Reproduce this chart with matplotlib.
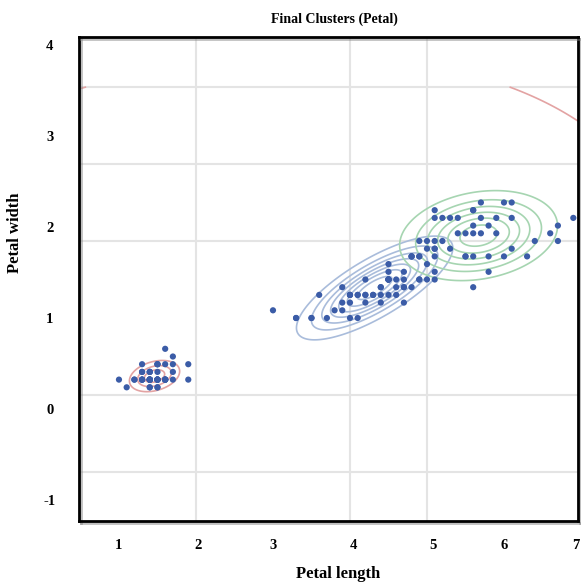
import numpy as np
import matplotlib
matplotlib.use("Agg")
import matplotlib.pyplot as plt
import matplotlib.patheffects as pe

# ---------------- DATA (iris petals) ----------------
petal_length = [
    1.4, 1.4, 1.3, 1.5, 1.4, 1.7, 1.4, 1.5, 1.4, 1.5, 1.5, 1.6, 1.4, 1.1, 1.2, 1.5, 1.3, 1.4, 1.7, 1.5,
    1.7, 1.5, 1.0, 1.7, 1.9, 1.6, 1.6, 1.5, 1.4, 1.6, 1.6, 1.5, 1.5, 1.4, 1.5, 1.2, 1.3, 1.4, 1.3, 1.5,
    1.3, 1.3, 1.3, 1.6, 1.9, 1.4, 1.6, 1.4, 1.5, 1.4,
    4.7, 4.5, 4.9, 4.0, 4.6, 4.5, 4.7, 3.3, 4.6, 3.9, 3.5, 4.2, 4.0, 4.7, 3.6, 4.4, 4.5, 4.1, 4.5, 3.9,
    4.8, 4.0, 4.9, 4.7, 4.3, 4.4, 4.8, 5.0, 4.5, 3.5, 3.8, 3.7, 3.9, 5.1, 4.5, 4.5, 4.7, 4.4, 4.1, 4.0,
    4.4, 4.6, 4.0, 3.3, 4.2, 4.2, 4.2, 4.3, 3.0, 4.1,
    6.0, 5.1, 5.9, 5.6, 5.8, 6.6, 4.5, 6.3, 5.8, 6.1, 5.1, 5.3, 5.5, 5.0, 5.1, 5.3, 5.5, 6.7, 6.9, 5.0,
    5.7, 4.9, 6.7, 4.9, 5.7, 6.0, 4.8, 4.9, 5.6, 5.8, 6.1, 6.4, 5.6, 5.1, 5.6, 6.1, 5.6, 5.5, 4.8, 5.4,
    5.6, 5.1, 5.1, 5.9, 5.7, 5.2, 5.0, 5.2, 5.4, 5.1,
]
petal_width = [
    0.2, 0.2, 0.2, 0.2, 0.2, 0.4, 0.3, 0.2, 0.2, 0.1, 0.2, 0.2, 0.1, 0.1, 0.2, 0.4, 0.4, 0.3, 0.3, 0.3,
    0.2, 0.4, 0.2, 0.5, 0.2, 0.2, 0.4, 0.2, 0.2, 0.2, 0.2, 0.4, 0.1, 0.2, 0.2, 0.2, 0.2, 0.1, 0.2, 0.2,
    0.3, 0.3, 0.2, 0.6, 0.4, 0.3, 0.2, 0.2, 0.2, 0.2,
    1.4, 1.5, 1.5, 1.3, 1.5, 1.3, 1.6, 1.0, 1.3, 1.4, 1.0, 1.5, 1.0, 1.4, 1.3, 1.4, 1.5, 1.0, 1.5, 1.1,
    1.8, 1.3, 1.5, 1.2, 1.3, 1.4, 1.4, 1.7, 1.5, 1.0, 1.1, 1.0, 1.2, 1.6, 1.5, 1.6, 1.5, 1.3, 1.3, 1.3,
    1.2, 1.4, 1.2, 1.0, 1.3, 1.2, 1.3, 1.3, 1.1, 1.3,
    2.5, 1.9, 2.1, 1.8, 2.2, 2.1, 1.7, 1.8, 1.8, 2.5, 2.0, 1.9, 2.1, 2.0, 2.4, 2.3, 1.8, 2.2, 2.3, 1.5,
    2.3, 2.0, 2.0, 1.8, 2.1, 1.8, 1.8, 1.8, 2.1, 1.6, 1.9, 2.0, 2.2, 1.5, 1.4, 2.3, 2.4, 1.8, 1.8, 2.1,
    2.4, 2.3, 1.9, 2.3, 2.5, 2.3, 1.9, 2.0, 2.3, 1.8,
]

# fitted gaussian components
comp_means = [(1.462, 0.246), (4.32, 1.39), (5.67, 2.07)]
comp_covs = [
    [[0.0300, 0.00575], [0.00575, 0.0116]],
    [[0.243, 0.124], [0.124, 0.107]],
    [[0.277, 0.034], [0.034, 0.090]],
]
comp_colors = ["#e3a3a3", "#a9bcdb", "#a6d5b1"]
# contour levels as fraction of each component's peak density
comp_levels = [
    [0.17, 0.45, 0.75],
    [0.12, 0.25, 0.38, 0.51, 0.64, 0.77, 0.9],
    [0.15, 0.30, 0.45, 0.60, 0.75, 0.90],
]

x_ticks = [1.0, 2.03, 3.0, 4.05, 5.08, 6.0, 6.93]
x_ticklabels = ["1", "2", "3", "4", "5", "6", "7"]
y_ticks = [4.55, 3.36, 2.18, 1.0, -0.18, -1.36]
y_ticklabels = ["4", "3", "2", "1", "0", "-1"]
grid_x = [1, 2, 3, 4, 5, 6]
grid_y = [-1, 0, 1, 2, 3, 4]


def log_gauss(X, Y, mean, cov):
    cov = np.array(cov)
    inv = np.linalg.inv(cov)
    dx = X - mean[0]
    dy = Y - mean[1]
    m = inv[0, 0] * dx**2 + 2 * inv[0, 1] * dx * dy + inv[1, 1] * dy**2
    return -0.5 * m - np.log(2 * np.pi * np.sqrt(np.linalg.det(cov)))


# ---------------- PLOT ----------------
plt.rcParams["font.family"] = ["Liberation Serif", "DejaVu Serif"]
plt.rcParams["font.weight"] = "bold"

fig = plt.figure(figsize=(5.81, 5.88), dpi=100)
ax = fig.add_axes([79 / 581, 1 - 521 / 588, 499 / 581, 484 / 588])

gx, gy = np.meshgrid(np.linspace(0.5, 7.0, 500), np.linspace(-0.5, 4.0, 500))
floor = np.log(np.finfo(float).smallest_subnormal)  # where the density underflows

for i, (mu, cov) in enumerate(zip(comp_means, comp_covs)):
    lz = log_gauss(gx, gy, mu, cov)
    peak = lz.max()
    lv = sorted(peak + np.log(comp_levels[i]))
    if i == 0:
        lv = [floor] + lv
    ax.contour(gx, gy, lz, levels=lv, colors=comp_colors[i], linewidths=1.2,
               linestyles="solid", zorder=2)

ax.scatter(petal_length, petal_width, s=20, color="#3b5ca7", edgecolors="none", zorder=3)

ax.set_xlim(0.481, 6.961)
ax.set_ylim(-1.636, 4.649)

ax.set_xticks(x_ticks)
ax.set_xticklabels(x_ticklabels)
ax.set_yticks(y_ticks)
ax.set_yticklabels(y_ticklabels)
ax.set_xticks(grid_x, minor=True)
ax.set_yticks(grid_y, minor=True)
ax.tick_params(which="both", length=0)
ax.tick_params(axis="x", pad=13, labelsize=10.5)
ax.tick_params(axis="y", pad=21, labelsize=10.5)
for lab in ax.get_yticklabels():
    lab.set_horizontalalignment("center")
ax.grid(False, which="major")
ax.grid(True, which="minor", color="#e4e4e4", linewidth=1.5)
ax.set_axisbelow(True)

for sp in ax.spines.values():
    sp.set_linewidth(2)
    sp.set_color("black")
    sp.set_path_effects([pe.SimpleLineShadow(offset=(1.5, -1.5), shadow_color="gray", alpha=0.5), pe.Normal()])

ax.set_title("Final Clusters (Petal)", fontsize=10, fontweight="bold", pad=10, x=0.511)
ax.set_xlabel("Petal length", fontsize=12, fontweight="bold")
ax.set_ylabel("Petal width", fontsize=12, fontweight="bold")
ax.xaxis.set_label_coords(0.519, -0.093)
ax.yaxis.set_label_coords(-0.112, 0.595)

fig.savefig("out.png", dpi=100)
